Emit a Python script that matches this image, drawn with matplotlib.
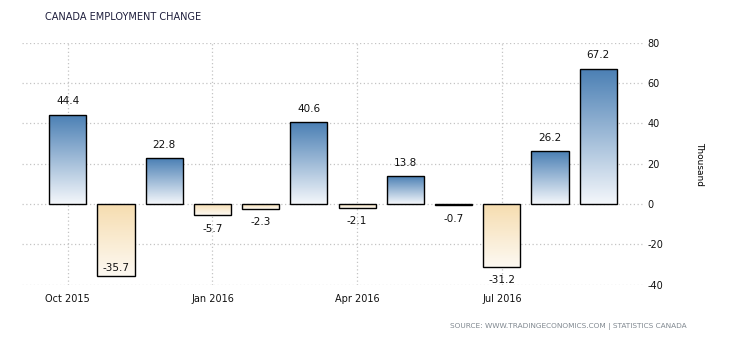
import numpy as np
import matplotlib.pyplot as plt
from matplotlib.colors import LinearSegmentedColormap

months = ["Oct 2015", "Nov 2015", "Dec 2015", "Jan 2016", "Feb 2016", "Mar 2016",
          "Apr 2016", "May 2016", "Jun 2016", "Jul 2016", "Aug 2016", "Sep 2016"]
change = [44.4, -35.7, 22.8, -5.7, -2.3, 40.6, -2.1, 13.8, -0.7, -31.2, 26.2, 67.2]
tick_months = ["Oct 2015", "Jan 2016", "Apr 2016", "Jul 2016"]
y_ticks = [-40, -20, 0, 20, 40, 60, 80]

plt.rcParams['font.family'] = ['DejaVu Sans']
plt.rcParams['axes.unicode_minus'] = False

fig = plt.figure(figsize=(7.3, 3.4), dpi=100)
ax = fig.add_axes([0.030, 0.163, 0.851, 0.711])

x = np.arange(len(months))
bars = ax.bar(x, change, width=0.77, color='none', edgecolor='black', linewidth=1.0, zorder=3)

# vertical gradients: blue for gains, pale orange for losses
blue = LinearSegmentedColormap.from_list("b", ["#f4f7fb", "#4a7fb4"])
orange = LinearSegmentedColormap.from_list("o", ["#fdf9f2", "#f6ddb0"])
grad = np.linspace(0, 1, 256).reshape(-1, 1)
for b, v in zip(bars, change):
    x0, w = b.get_x(), b.get_width()
    if v >= 0:
        img = ax.imshow(grad, cmap=blue, extent=[x0, x0 + w, 0, v], origin='lower',
                        aspect='auto', zorder=2)
    else:
        img = ax.imshow(grad, cmap=orange, extent=[x0, x0 + w, v, 0], origin='lower',
                        aspect='auto', zorder=2)
    img.set_clip_path(b)

ax.set_xlim(-0.95, 11.93)
ax.set_ylim(-40, 80)

# value labels, pulled inside the bar when they would leave the plot
for xi, v in zip(x, change):
    if v >= 0:
        ax.annotate(f"{v:.1f}", (xi, v), xytext=(0, 9.5), textcoords='offset points',
                    ha='center', va='center', fontsize=7.5, color='#111111')
    elif v - 7 < -40:
        ax.annotate(f"{v:.1f}", (xi, v), xytext=(0, 6), textcoords='offset points',
                    ha='center', va='center', fontsize=7.5, color='#111111', zorder=5)
    else:
        ax.annotate(f"{v:.1f}", (xi, v), xytext=(0, -9.5), textcoords='offset points',
                    ha='center', va='center', fontsize=7.5, color='#111111')

ax.set_xticks([months.index(m) for m in tick_months])
ax.set_xticklabels(tick_months)
ax.set_yticks(y_ticks)
ax.yaxis.tick_right()
ax.tick_params(axis='both', length=0, labelsize=7, colors='#111111')
ax.tick_params(axis='y', pad=3)
ax.tick_params(axis='x', pad=7)
for s in ax.spines.values():
    s.set_visible(False)
ax.grid(True, color='#c4c4c4', linestyle=(0, (1, 2)), linewidth=0.9, zorder=0)
ax.set_axisbelow(True)

ax.yaxis.set_label_position('right')
ax.set_ylabel("Thousand", rotation=270, fontsize=6.5, labelpad=26, va='center')

fig.text(0.062, 0.95, "CANADA EMPLOYMENT CHANGE", fontsize=7, color='#1e1e3c',
         ha='left', va='center')
fig.text(0.94, 0.04, "SOURCE: WWW.TRADINGECONOMICS.COM | STATISTICS CANADA",
         fontsize=5.3, color='#808890', ha='right', va='center')

fig.savefig("out.png", dpi=100)
